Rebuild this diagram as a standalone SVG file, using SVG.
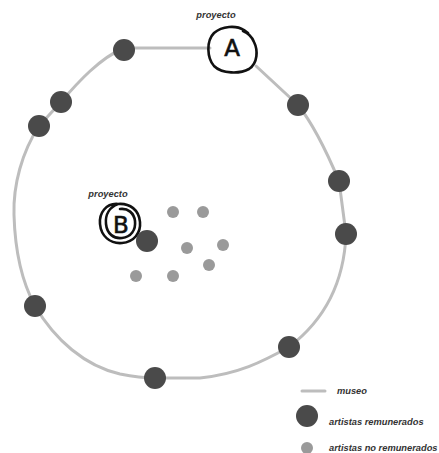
<svg xmlns="http://www.w3.org/2000/svg" width="439" height="453" viewBox="0 0 439 453">
<style>
.big{fill:#4a4a4a}
.small{fill:#9a9a9a}
.museo{fill:none;stroke:#bdbdbd;stroke-width:3;stroke-linecap:round;stroke-linejoin:round}
.lbl{font-family:"Liberation Sans",Arial,sans-serif;font-weight:bold;font-style:italic;font-size:9.3px;fill:#333}
.hand{fill:none;stroke:#111;stroke-width:2.6;stroke-linecap:round;stroke-linejoin:round}
.letter{font-family:"DejaVu Sans","Liberation Sans",sans-serif;font-size:23px;fill:#111;stroke:#111;stroke-width:0.6}
</style>
<rect width="439" height="453" fill="#fff"/>
<g id="connectors">
<path class="museo" d="M 210,48 L 124,48 C 100,58 78,82 61,102 L 39,126 C 22,152 13,185 14,215 C 15,250 22,282 35,306 C 55,340 85,366 120,374 C 135,377 145,378 155,378 L 200,378 C 238,374 262,362 289,347 C 322,322 344,285 346,234 L 339,181 C 326,150 313,124 298,105 L 256,66"/>
</g>
<g id="node-museo-artists">
<circle class="big" cx="124" cy="50" r="11"/>
<circle class="big" cx="61" cy="102" r="11"/>
<circle class="big" cx="39" cy="126" r="11"/>
<circle class="big" cx="298" cy="105" r="11"/>
<circle class="big" cx="339" cy="181" r="11"/>
<circle class="big" cx="346" cy="234" r="11"/>
<circle class="big" cx="35" cy="306" r="11"/>
<circle class="big" cx="289" cy="347" r="11"/>
<circle class="big" cx="155" cy="378" r="11"/>
</g>
<g id="node-proyecto-a">
<text class="lbl" x="216" y="18" text-anchor="middle">proyecto</text>
<path class="hand" d="M 244,30 C 236,25 222,26 214,33 C 206,41 207,58 214,66 C 222,74 240,74 249,69 C 258,63 258,50 254,42 C 252,37 248,33 243,31 M 244,30 L 248,33"/>
<text class="letter" x="232" y="56" text-anchor="middle">A</text>
</g>
<g id="node-proyecto-b">
<text class="lbl" x="108" y="197" text-anchor="middle">proyecto</text>
<path class="hand" d="M 118,204 C 106,203 99,213 100,224 C 101,236 110,244 122,243 C 134,242 141,233 140,222 C 139,210 130,203 118,204 C 110,207 105,214 106,224 C 107,234 114,239 122,238 C 131,237 136,230 135,221 C 134,213 128,208 120,209"/>
<text class="letter" x="121" y="233" text-anchor="middle">B</text>
<circle class="big" cx="147" cy="241" r="11"/>
</g>
<g id="node-unpaid-artists">
<circle class="small" cx="173" cy="212" r="6"/>
<circle class="small" cx="203" cy="212" r="6"/>
<circle class="small" cx="187" cy="248" r="6"/>
<circle class="small" cx="223" cy="245" r="6"/>
<circle class="small" cx="209" cy="265" r="6"/>
<circle class="small" cx="136" cy="276" r="6"/>
<circle class="small" cx="173" cy="276" r="6"/>
</g>
<g id="legend">
<line class="museo" x1="302" y1="391" x2="325" y2="391"/>
<text class="lbl" x="337" y="394">museo</text>
<circle class="big" cx="307" cy="416" r="11"/>
<text class="lbl" x="329" y="425">artistas remunerados</text>
<circle class="small" cx="307" cy="448" r="6"/>
<text class="lbl" x="329" y="451">artistas no remunerados</text>
</g>
</svg>
